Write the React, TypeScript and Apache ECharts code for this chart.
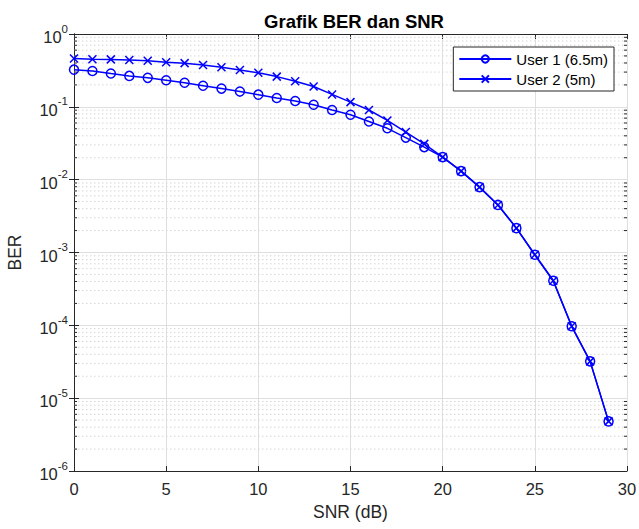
import React, { useEffect, useRef } from "react";
import * as echarts from "echarts";

const snr = [0,1,2,3,4,5,6,7,8,9,10,11,12,13,14,15,16,17,18,19,20,21,22,23,24,25,26,27,28,29];
const user1 = [0.324,0.31,0.287,0.266,0.25,0.232,0.214,0.195,0.178,0.162,0.147,0.132,0.12,0.107,0.0904,0.078,0.063,0.0507,0.0378,0.028,0.0204,0.0131,0.0079,0.0045,0.00216,0.00093,0.00041,0.000097,0.000032,0.0000048];
const user2 = [0.46,0.45,0.448,0.44,0.43,0.41,0.398,0.375,0.35,0.32,0.293,0.26,0.224,0.19,0.148,0.116,0.0904,0.065,0.045,0.031,0.0204,0.0131,0.0079,0.0045,0.00216,0.00093,0.00041,0.000097,0.000032,0.0000048];
const seriesNames = ["User 1 (6.5m)", "User 2 (5m)"];
const decades = [-6,-5,-4,-3,-2,-1];
const minorFactors = [2,3,4,5,6,7,8,9];

const FONT = "Liberation Sans, Arial, Helvetica, sans-serif";
const TXT = "#262626";
const BLUE = "#0000ff";

export default function App() {
  const ref = useRef<HTMLDivElement>(null);
  useEffect(() => {
    if (!ref.current) return;
    const chart = echarts.init(ref.current, undefined, { renderer: "svg" });
    const minorVals: number[][] = [];
    decades.forEach((d) => minorFactors.forEach((k) => minorVals.push([0, k * Math.pow(10, d)])));

    const axisBase = {
      axisLine: { show: true, lineStyle: { color: TXT, width: 1 } },
      axisTick: { show: true, inside: true, length: 5, lineStyle: { color: TXT } },
    };

    const option: any = {
      animation: false,
      backgroundColor: "#ffffff",
      textStyle: { fontFamily: FONT },
      title: {
        text: "Grafik BER dan SNR",
        left: 349,
        textAlign: "center",
        top: 7,
        textStyle: { fontFamily: FONT, fontSize: 18.5, fontWeight: "bold", color: "#000" },
      },
      legend: {
        data: seriesNames,
        orient: "vertical",
        right: 25,
        top: 47,
        itemWidth: 52,
        itemHeight: 9,
        itemGap: 4,
        padding: [4, 6, 4, 5],
        backgroundColor: "#ffffff",
        borderColor: TXT,
        borderWidth: 1,
        borderRadius: 0,
        selectedMode: false,
        textStyle: { fontFamily: FONT, fontSize: 15, color: "#000", lineHeight: 16 },
      },
      grid: { left: 74, right: 12, top: 34, bottom: 58, containLabel: false, outerBoundsMode: "none" },
      xAxis: [
        {
          type: "value",
          min: 0,
          max: 30,
          interval: 5,
          name: "SNR (dB)",
          nameLocation: "middle",
          nameGap: 32,
          nameTextStyle: { fontFamily: FONT, fontSize: 17.5, color: TXT },
          ...axisBase,
          axisLabel: { fontFamily: FONT, fontSize: 16.5, color: TXT, margin: 9 },
          splitLine: { show: true, lineStyle: { color: "#dfdfdf", width: 1 } },
        },
        {
          type: "value",
          position: "top",
          min: 0,
          max: 30,
          interval: 5,
          ...axisBase,
          axisLabel: { show: false },
          splitLine: { show: false },
        },
      ],
      yAxis: [
        {
          type: "log",
          logBase: 10,
          min: 1e-6,
          max: 1,
          splitNumber: 6,
          name: "BER",
          nameLocation: "middle",
          nameGap: 50,
          nameTextStyle: { fontFamily: FONT, fontSize: 17.5, color: TXT },
          ...axisBase,
          axisLabel: {
            fontFamily: FONT,
            color: TXT,
            margin: 6,
            formatter: (v: number) => {
              const e = Math.round(Math.log10(v));
              return `{b|10}{e|${e}}`;
            },
            rich: {
              b: { fontFamily: FONT, fontSize: 16.5, color: TXT, lineHeight: 23, verticalAlign: "bottom" },
              e: { fontFamily: FONT, fontSize: 11.5, color: TXT, lineHeight: 13, verticalAlign: "top" },
            },
          },
          splitLine: { show: true, lineStyle: { color: "#dfdfdf", width: 1 } },
        },
        {
          type: "log",
          logBase: 10,
          min: 1e-6,
          max: 1,
          splitNumber: 6,
          position: "right",
          ...axisBase,
          axisLabel: { show: false },
          splitLine: { show: false },
        },
      ],
      series: [
        {
          type: "custom",
          name: "minor",
          silent: true,
          z: 1,
          xAxisIndex: 0,
          yAxisIndex: 0,
          encode: { x: 0, y: 1 },
          data: minorVals,
          renderItem: (params: any, api: any) => {
            const v = api.value(1);
            const a = api.coord([0, v]);
            const b = api.coord([30, v]);
            return {
              type: "group",
              children: [
                {
                  type: "line",
                  shape: { x1: a[0], y1: a[1], x2: b[0], y2: b[1] },
                  style: { stroke: "#d6d6d6", lineWidth: 1, lineDash: [1.5, 2.5] },
                },
                {
                  type: "line",
                  shape: { x1: a[0], y1: a[1], x2: a[0] + 3, y2: a[1] },
                  style: { stroke: TXT, lineWidth: 1 },
                },
                {
                  type: "line",
                  shape: { x1: b[0] - 3, y1: b[1], x2: b[0], y2: b[1] },
                  style: { stroke: TXT, lineWidth: 1 },
                },
              ],
            };
          },
        },
        {
          type: "line",
          name: seriesNames[0],
          z: 3,
          data: snr.map((x, i) => [x, user1[i]]),
          symbol: "circle",
          symbolSize: 9,
          showAllSymbol: true,
          lineStyle: { color: BLUE, width: 1.5 },
          itemStyle: { color: "rgba(0,0,0,0)", borderColor: BLUE, borderWidth: 1.5 },
        },
        {
          type: "line",
          name: seriesNames[1],
          z: 4,
          data: snr.map((x, i) => [x, user2[i]]),
          symbol: "path://M0,0L10,10M10,0L0,10",
          symbolSize: 8,
          showAllSymbol: true,
          lineStyle: { color: BLUE, width: 1.5 },
          itemStyle: { color: "rgba(0,0,0,0)", borderColor: BLUE, borderWidth: 1.5 },
        },
      ],
    };
    chart.setOption(option);
    return () => chart.dispose();
  }, []);
  return <div ref={ref} style={{ position: "fixed", left: 0, top: 0, width: 639, height: 529 }} />;
}
